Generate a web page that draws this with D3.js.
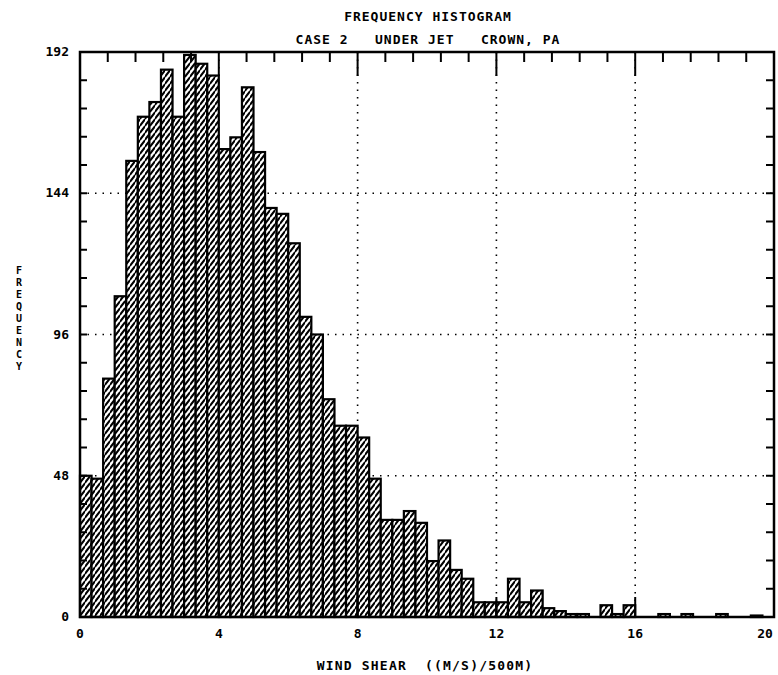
<!DOCTYPE html>
<html>
<head>
<meta charset="utf-8">
<script src="https://cdn.jsdelivr.net/npm/d3@7"></script>
<style>
  html, body { margin: 0; padding: 0; background: #fff; }
  svg { display: block; }
  text { font-family: "DejaVu Sans Mono", monospace; font-weight: bold; fill: #000; }
</style>
</head>
<body>
<svg id="chart" width="778" height="675"></svg>
<script>
// ---- data ----
const titleLines = ["FREQUENCY HISTOGRAM", "CASE 2   UNDER JET   CROWN, PA"];
const xLabel = "WIND SHEAR  ((M/S)/500M)";
const yLabel = "FREQUENCY";
const xDomain = [0, 20];
const yDomain = [0, 192];
const binWidth = 1 / 3;
const counts = [
  48, 47, 81, 109, 155, 170, 175, 186, 170, 191,
  188, 184, 159, 163, 180, 158, 139, 137, 127, 102,
  96, 74, 65, 65, 61, 47, 33, 33, 36, 32,
  19, 26, 16, 13, 5, 5, 5, 13, 5, 9,
  3, 2, 1, 1, 0, 4, 1, 4, 0, 0,
  1, 0, 1, 0, 0, 1, 0, 0, 0.5, 0
];
const xMajorTicks = [0, 4, 8, 12, 16, 20];
const xMinorTicks = [0.8, 1.6, 2.4, 3.2, 4.8, 5.6, 6.4, 7.2, 8.8, 9.6, 10.4, 11.2,
                     12.8, 13.6, 14.4, 15.2, 16.8, 17.6, 18.4, 19.2];
const yMajorTicks = [0, 48, 96, 144, 192];
const yMinorTicks = [9.6, 19.2, 28.8, 38.4, 57.6, 67.2, 76.8, 86.4, 105.6, 115.2, 124.8, 134.4,
                     153.6, 163.2, 172.8, 182.4];
const gridX = [4, 8, 12, 16];
const gridY = [48, 96, 144];

// ---- layout ----
const L = 80, R = 774, T = 52, B = 617;
const svg = d3.select("#chart");
const x = d3.scaleLinear().domain(xDomain).range([L, R]);
const y = d3.scaleLinear().domain(yDomain).range([B, T]);

// hatch pattern
const defs = svg.append("defs");
const pat = defs.append("pattern")
  .attr("id", "hatch")
  .attr("patternUnits", "userSpaceOnUse")
  .attr("width", 5).attr("height", 7);
pat.append("rect").attr("width", 5).attr("height", 7).attr("fill", "#fff");
pat.append("path")
  .attr("d", "M-1,8 L6,-1 M-3,3 L1,-2 M4,9 L7,5")
  .attr("stroke", "#000").attr("stroke-width", 2.1);

// gridlines (dotted)
const grid = svg.append("g");
grid.selectAll("line.gx").data(gridX).join("line")
  .attr("x1", d => x(d)).attr("x2", d => x(d))
  .attr("y1", T).attr("y2", B)
  .attr("stroke", "#000").attr("stroke-width", 1.6)
  .attr("stroke-dasharray", "1.5,6");
grid.selectAll("line.gy").data(gridY).join("line")
  .attr("x1", L).attr("x2", R)
  .attr("y1", d => y(d)).attr("y2", d => y(d))
  .attr("stroke", "#000").attr("stroke-width", 1.6)
  .attr("stroke-dasharray", "1.5,6");

// bars
svg.append("g").selectAll("rect").data(counts).join("rect")
  .attr("x", (d, i) => x(i * binWidth))
  .attr("width", (d, i) => x((i + 1) * binWidth) - x(i * binWidth))
  .attr("y", d => y(d))
  .attr("height", d => y(0) - y(d))
  .attr("fill", "url(#hatch)")
  .attr("stroke", "#000").attr("stroke-width", d => d > 0 ? 2.2 : 0);

// ticks (inward)
const tk = svg.append("g").attr("stroke", "#000").attr("stroke-width", 2);
tk.selectAll("line.tmaj").data(xMajorTicks.slice(1, -1)).join("line")
  .attr("x1", d => x(d)).attr("x2", d => x(d)).attr("y1", T).attr("y2", T + 24);
tk.selectAll("line.tmin").data(xMinorTicks).join("line")
  .attr("x1", d => x(d)).attr("x2", d => x(d)).attr("y1", T).attr("y2", T + 10);
tk.selectAll("line.bmaj").data(xMajorTicks.slice(1, -1)).join("line")
  .attr("x1", d => x(d)).attr("x2", d => x(d)).attr("y1", B).attr("y2", B - 20);
tk.selectAll("line.lmin").data(yMinorTicks.concat(yMajorTicks.slice(1, -1))).join("line")
  .attr("x1", L).attr("x2", L + 7).attr("y1", d => y(d)).attr("y2", d => y(d));
tk.selectAll("line.rmin").data(yMinorTicks.concat(yMajorTicks.slice(1, -1))).join("line")
  .attr("x1", R).attr("x2", R - 8).attr("y1", d => y(d)).attr("y2", d => y(d));

// frame
svg.append("rect")
  .attr("x", L).attr("y", T).attr("width", R - L).attr("height", B - T)
  .attr("fill", "none").attr("stroke", "#000").attr("stroke-width", 2.5);

// tick labels
svg.append("g").selectAll("text").data(xMajorTicks).join("text")
  .attr("x", d => Math.min(x(d), 765)).attr("y", B + 21)
  .attr("text-anchor", "middle").attr("font-size", 13)
  .text(d => d);
svg.append("g").selectAll("text").data(yMajorTicks).join("text")
  .attr("x", L - 11).attr("y", d => y(d) + 4)
  .attr("text-anchor", "end").attr("font-size", 13)
  .text(d => d);

// titles
svg.append("g").selectAll("text").data(titleLines).join("text")
  .attr("x", 428).attr("y", (d, i) => 21 + i * 23)
  .attr("text-anchor", "middle").attr("font-size", 13)
  .attr("letter-spacing", 1)
  .style("white-space", "pre")
  .text(d => d);

// axis labels
svg.append("text")
  .attr("x", 425).attr("y", 670)
  .attr("text-anchor", "middle").attr("font-size", 13)
  .attr("letter-spacing", 1.2)
  .style("white-space", "pre")
  .text(xLabel);

// stacked vertical y label (one letter per row)
svg.append("g").selectAll("text").data(yLabel.split("")).join("text")
  .attr("text-anchor", "middle").attr("font-size", 10)
  .attr("x", 19).attr("y", (d, i) => 274 + i * 12)
  .text(d => d);
</script>
</body>
</html>
